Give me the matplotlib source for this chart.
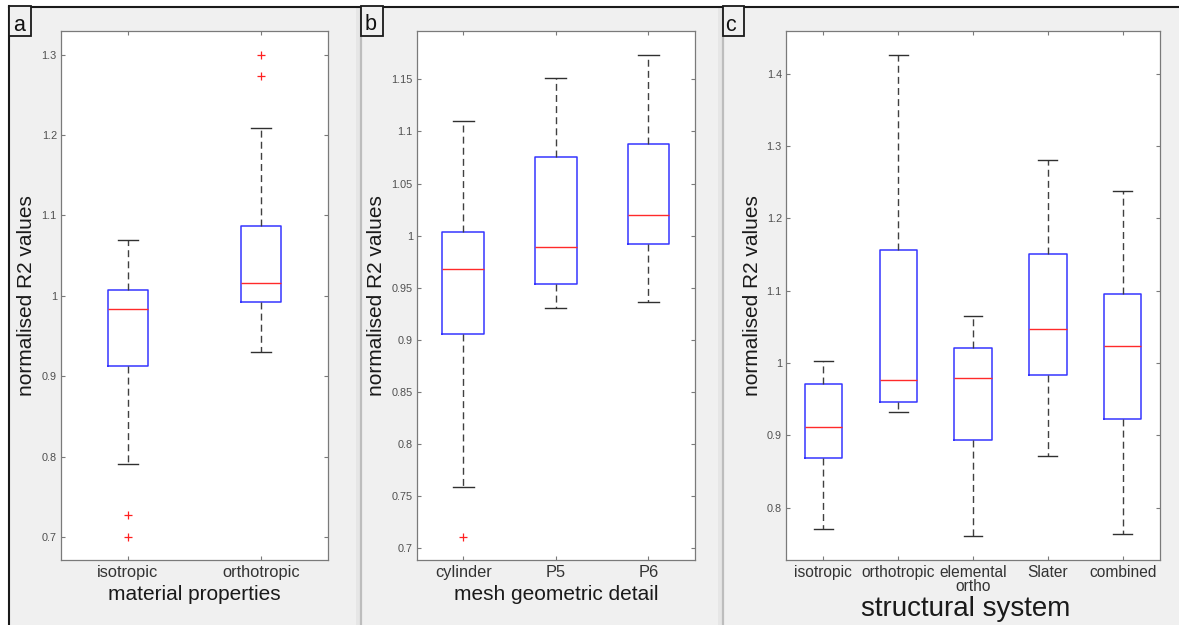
import matplotlib
matplotlib.use('Agg')
import matplotlib.pyplot as plt
from matplotlib.patches import Rectangle
from matplotlib.lines import Line2D
from matplotlib.ticker import FixedLocator, FuncFormatter

plt.rcParams['font.family'] = ['Liberation Sans', 'DejaVu Sans']
plt.rcParams['lines.scale_dashes'] = False

W, H = 1179, 625

# ---------------- data ----------------
a_categories = ['isotropic', 'orthotropic']
a_whislo = [0.791, 0.930]
a_q1 = [0.913, 0.992]
a_med = [0.984, 1.016]
a_q3 = [1.007, 1.087]
a_whishi = [1.069, 1.209]
a_fliers = [[0.7275, 0.700], [1.273, 1.300]]
a_yticks = [0.7, 0.8, 0.9, 1.0, 1.1, 1.2, 1.3]

b_categories = ['cylinder', 'P5', 'P6']
b_whislo = [0.759, 0.9305, 0.9367]
b_q1 = [0.906, 0.954, 0.992]
b_med = [0.968, 0.989, 1.020]
b_q3 = [1.0036, 1.0755, 1.0876]
b_whishi = [1.110, 1.1515, 1.173]
b_fliers = [[0.711], [], []]
b_yticks = [0.7, 0.75, 0.8, 0.85, 0.9, 0.95, 1.0, 1.05, 1.1, 1.15]

c_categories = ['isotropic', 'orthotropic', 'elemental\northo', 'Slater', 'combined']
c_whislo = [0.770, 0.932, 0.760, 0.872, 0.764]
c_q1 = [0.868, 0.9466, 0.894, 0.984, 0.922]
c_med = [0.911, 0.977, 0.9796, 1.047, 1.023]
c_q3 = [0.971, 1.1565, 1.021, 1.151, 1.095]
c_whishi = [1.003, 1.426, 1.0645, 1.2805, 1.2375]
c_fliers = [[], [], [], [], []]
c_yticks = [0.8, 0.9, 1.0, 1.1, 1.2, 1.3, 1.4]

ylabel_text = 'normalised R2 values'
xlabels = ['material properties', 'mesh geometric detail', 'structural system']
panel_letters = ['a', 'b', 'c']


def fx(px):
    return px / W


def fy(py):
    return 1 - py / H


fig = plt.figure(figsize=(W / 100, H / 100), dpi=100)
fig.patch.set_facecolor('white')

# panel background
fig.add_artist(Rectangle((fx(10), 0), fx(1179) - fx(10), fy(7) - 0,
                         transform=fig.transFigure, facecolor='#f0f0f0',
                         edgecolor='none', zorder=-5))
# separator shadows and lines
for sx in (361, 722.5):
    fig.add_artist(Rectangle((fx(sx - 5), 0), fx(5), fy(7),
                             transform=fig.transFigure, facecolor='#e6e6e6',
                             edgecolor='none', zorder=-4))
    fig.add_artist(Line2D([fx(sx), fx(sx)], [0, fy(7)], transform=fig.transFigure,
                          color='#bdbdbd', lw=1.6, zorder=-3))
# top and left black border
fig.add_artist(Line2D([fx(9), 1], [fy(6.5), fy(6.5)], transform=fig.transFigure,
                      color='#1a1a1a', lw=1.5, zorder=5))
fig.add_artist(Line2D([fx(9.5), fx(9.5)], [0, fy(6)], transform=fig.transFigure,
                      color='#1a1a1a', lw=1.5, zorder=5))

# letter boxes: (left, right, top, bottom) in pixels
letter_boxes = [(9.5, 31, 6.5, 36), (361, 383, 6.5, 36), (722.5, 743.5, 6.5, 36)]
letter_pos = [(19.5, 25.5), (371, 24.5), (731, 25.5)]

panels = [
    dict(cats=a_categories, lo=a_whislo, q1=a_q1, med=a_med, q3=a_q3, hi=a_whishi,
         fl=a_fliers, yt=a_yticks, rect=(61, 328), width=0.30, ylim=(0.6714, 1.3294),
         xl=xlabels[0], xls=15, xly=594, xlx=0.5, ylx=27, xts=11.8),
    dict(cats=b_categories, lo=b_whislo, q1=b_q1, med=b_med, q3=b_q3, hi=b_whishi,
         fl=b_fliers, yt=b_yticks, rect=(417, 694.7), width=0.45, ylim=(0.6887, 1.1964),
         xl=xlabels[1], xls=15, xly=594, xlx=0.5, ylx=377, xts=11.8),
    dict(cats=c_categories, lo=c_whislo, q1=c_q1, med=c_med, q3=c_q3, hi=c_whishi,
         fl=c_fliers, yt=c_yticks, rect=(786, 1160), width=0.50, ylim=(0.7275, 1.459),
         xl=xlabels[2], xls=20, xly=609.5, xlx=0.481, ylx=752, xts=11.2),
]

top_px, bot_px = 31, 560
spine_col = '#7a7a7a'

for i, p in enumerate(panels):
    l, r = p['rect']
    ax = fig.add_axes([fx(l), fy(bot_px), fx(r) - fx(l), fy(top_px) - fy(bot_px)])
    ax.set_facecolor('white')
    n = len(p['cats'])
    stats = []
    for j in range(n):
        stats.append(dict(label=p['cats'][j], whislo=p['lo'][j], q1=p['q1'][j],
                          med=p['med'][j], q3=p['q3'][j], whishi=p['hi'][j],
                          fliers=p['fl'][j]))
    pos = list(range(1, n + 1))
    ax.bxp(stats, positions=pos, widths=p['width'], capwidths=p['width'] / 2,
           boxprops=dict(color='#3535ff', lw=1.1),
           medianprops=dict(color='#ff2a2a', lw=1.0),
           whiskerprops=dict(color='#404040', lw=1.0, linestyle=(0, (5.0, 3.0))),
           capprops=dict(color='#303030', lw=1.0),
           flierprops=dict(marker='+', markeredgecolor='#ff2020', markersize=5.5,
                           markeredgewidth=0.9, linestyle='none'),
           manage_ticks=False)
    ax.set_xlim(0.5, n + 0.5)
    ax.set_ylim(*p['ylim'])
    ax.xaxis.set_major_locator(FixedLocator(pos))
    ax.set_xticklabels(p['cats'], linespacing=0.92)
    ax.yaxis.set_major_locator(FixedLocator(p['yt']))
    ax.yaxis.set_major_formatter(FuncFormatter(lambda v, _: f'{round(v, 3):g}'))
    for s in ax.spines.values():
        s.set_color(spine_col)
        s.set_linewidth(0.9)
    ax.tick_params(direction='in', top=True, right=True, length=3, width=0.8,
                   color=spine_col)
    ax.tick_params(axis='x', labelsize=p['xts'], labelcolor='#333333', pad=3.5)
    ax.tick_params(axis='y', labelsize=7.8, labelcolor='#505050', pad=3)
    h_px = bot_px - top_px
    ax.set_xlabel(p['xl'], fontsize=p['xls'], color='#1a1a1a', va='center')
    ax.xaxis.set_label_coords(p['xlx'], (bot_px - p['xly']) / h_px)
    ax.set_ylabel(ylabel_text, fontsize=15, color='#1a1a1a', va='center')
    ax.yaxis.set_label_coords((p['ylx'] - l) / (r - l), 0.5)

    # letter box
    bl, br, bt, bb = letter_boxes[i]
    fig.add_artist(Rectangle((fx(bl), fy(bb)), fx(br) - fx(bl), fy(bt) - fy(bb),
                             transform=fig.transFigure, facecolor='#f0f0f0',
                             edgecolor='#1a1a1a', lw=1.3, zorder=6))
    lx, ly = letter_pos[i]
    fig.text(fx(lx), fy(ly), panel_letters[i], fontsize=15.5, color='#111111',
             ha='center', va='center', zorder=7)

fig.savefig('out.png', dpi=100)
